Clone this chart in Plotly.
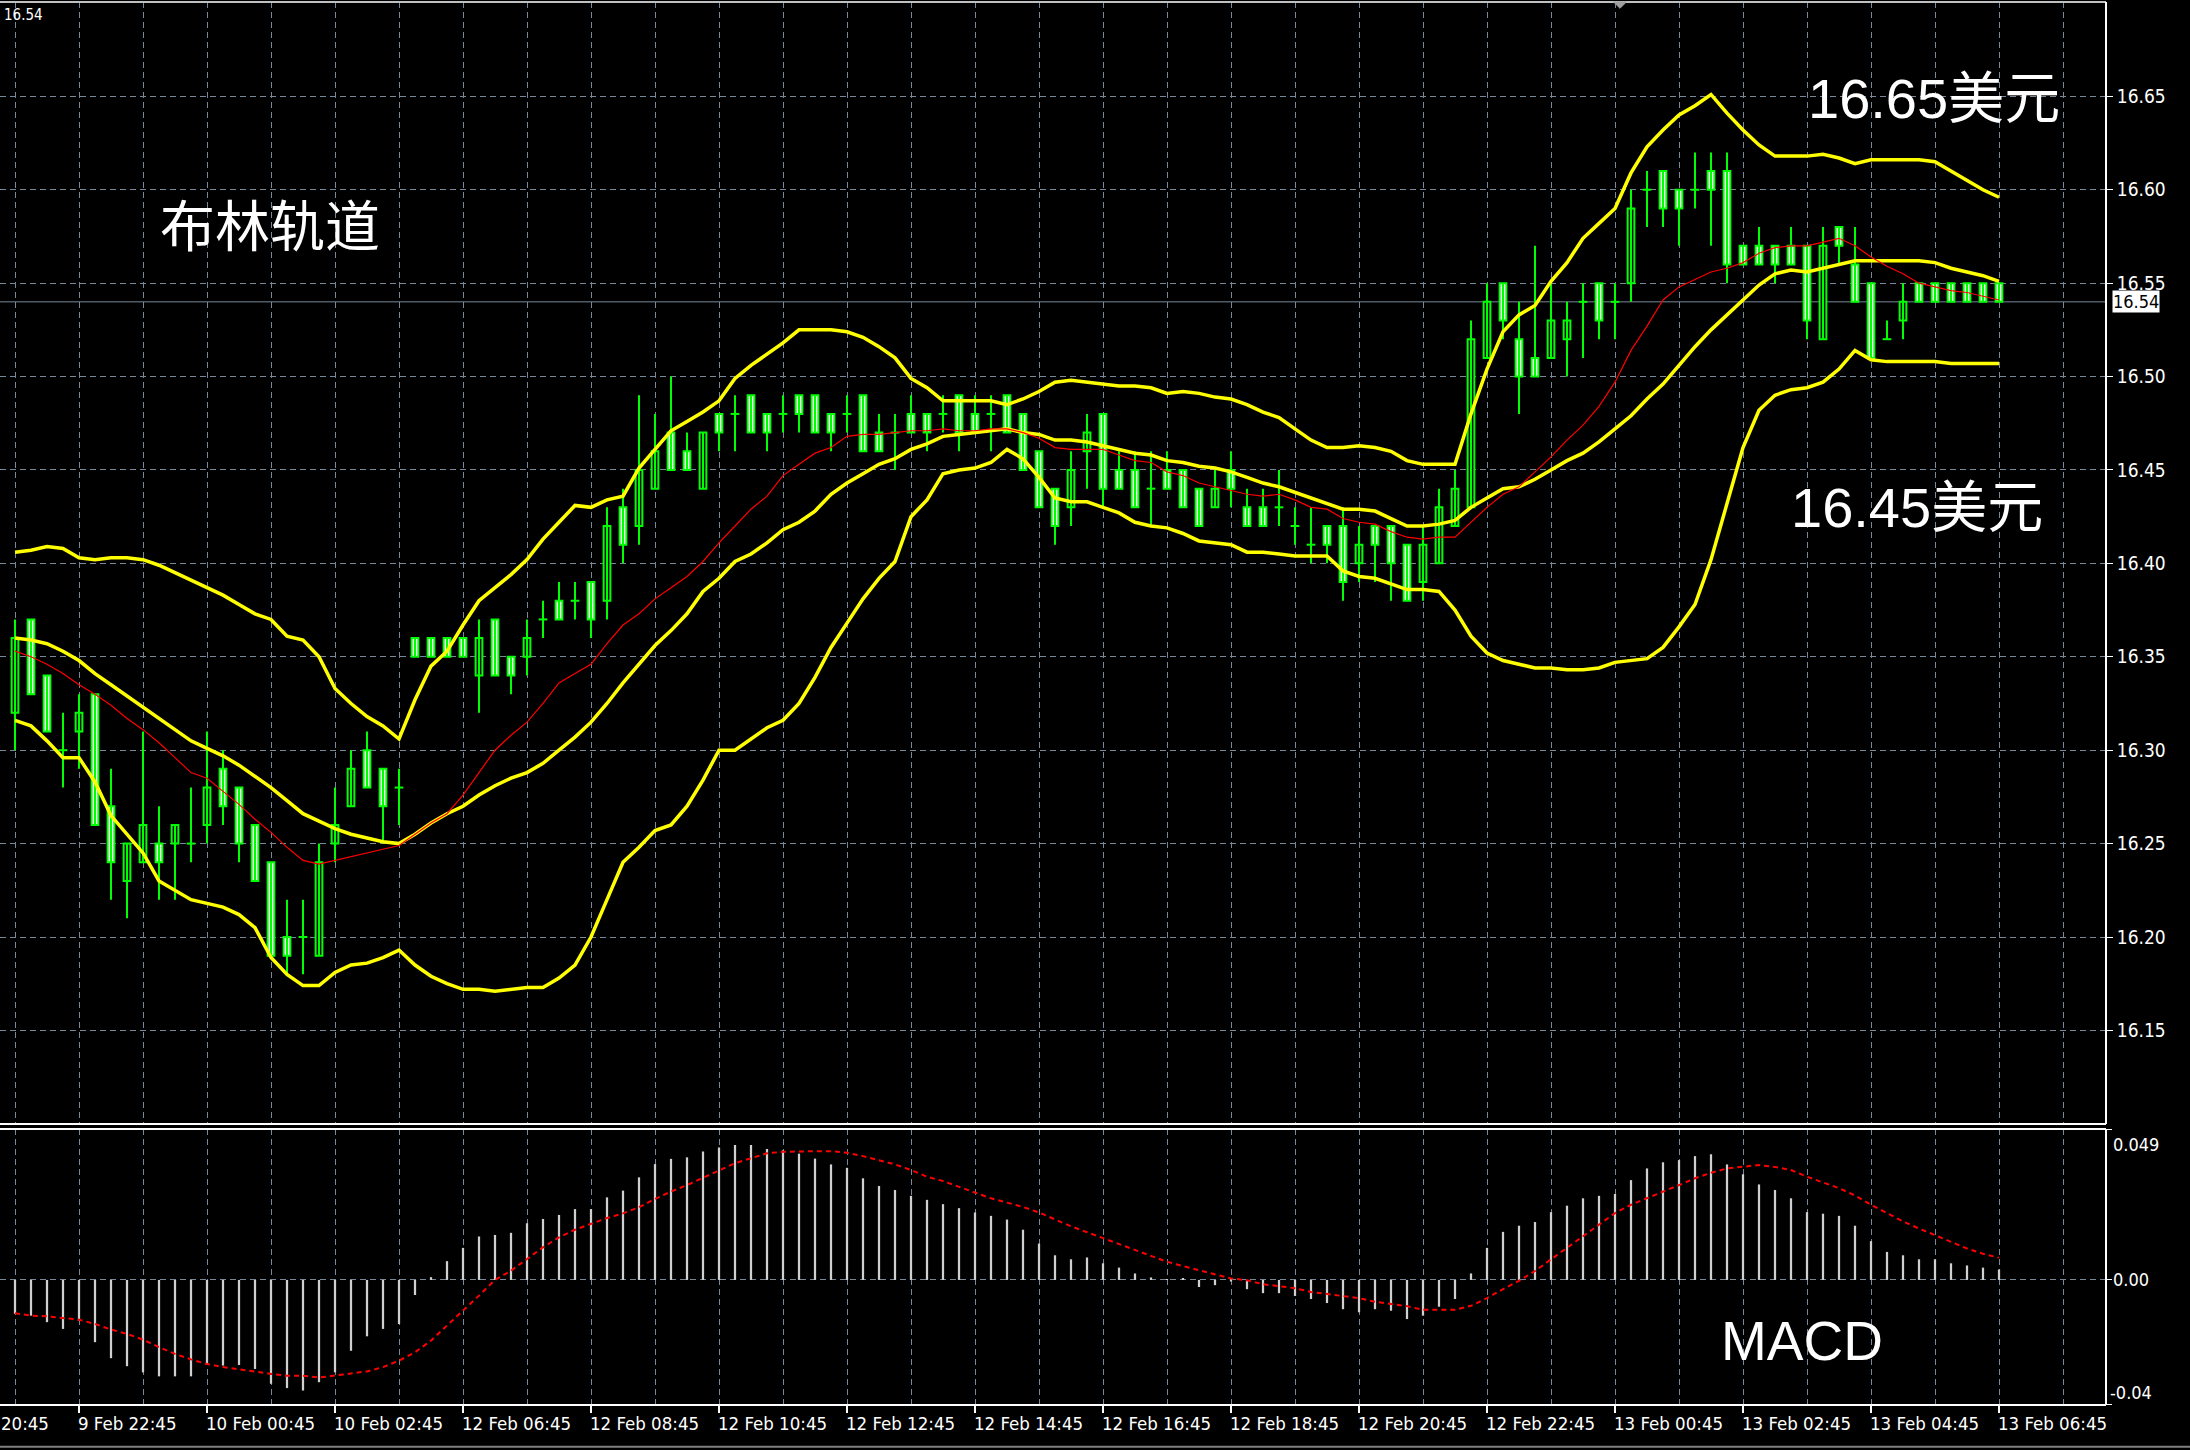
import plotly.graph_objects as go

# ---------------- data (15-minute bars, index 0 .. 124) ----------------
open_ = [16.32, 16.37, 16.34, 16.30, 16.31, 16.33, 16.27, 16.23, 16.24, 16.25,
         16.25, 16.25, 16.26, 16.29, 16.28, 16.26, 16.24, 16.20, 16.20, 16.19,
         16.25, 16.27, 16.30, 16.29, 16.28, 16.36, 16.36, 16.36, 16.36, 16.34,
         16.37, 16.35, 16.35, 16.37, 16.38, 16.38, 16.39, 16.38, 16.43, 16.42,
         16.44, 16.47, 16.46, 16.44, 16.48, 16.48, 16.49, 16.48, 16.48, 16.49,
         16.49, 16.48, 16.48, 16.49, 16.47, 16.47, 16.48, 16.48, 16.48, 16.49,
         16.48, 16.48, 16.49, 16.48, 16.46, 16.44, 16.43, 16.46, 16.48, 16.45,
         16.45, 16.44, 16.45, 16.45, 16.44, 16.43, 16.45, 16.43, 16.43, 16.43,
         16.42, 16.41, 16.42, 16.42, 16.40, 16.42, 16.42, 16.41, 16.39, 16.40,
         16.42, 16.43, 16.51, 16.55, 16.52, 16.51, 16.51, 16.52, 16.54, 16.55,
         16.54, 16.55, 16.60, 16.61, 16.60, 16.60, 16.61, 16.61, 16.57, 16.57,
         16.57, 16.57, 16.57, 16.52, 16.58, 16.56, 16.55, 16.52, 16.53, 16.55,
         16.55, 16.55, 16.55, 16.55, 16.55]
high_ = [16.37, 16.37, 16.34, 16.32, 16.33, 16.33, 16.29, 16.25, 16.31, 16.27,
         16.26, 16.28, 16.31, 16.30, 16.28, 16.26, 16.24, 16.22, 16.22, 16.25,
         16.28, 16.30, 16.31, 16.29, 16.29, 16.36, 16.36, 16.36, 16.36, 16.37,
         16.37, 16.35, 16.37, 16.38, 16.39, 16.39, 16.39, 16.43, 16.44, 16.49,
         16.48, 16.50, 16.47, 16.47, 16.48, 16.49, 16.49, 16.48, 16.49, 16.49,
         16.49, 16.48, 16.49, 16.49, 16.48, 16.48, 16.49, 16.48, 16.49, 16.49,
         16.49, 16.49, 16.49, 16.48, 16.46, 16.44, 16.46, 16.48, 16.48, 16.46,
         16.46, 16.46, 16.46, 16.45, 16.44, 16.45, 16.46, 16.44, 16.44, 16.45,
         16.43, 16.43, 16.42, 16.43, 16.42, 16.42, 16.42, 16.41, 16.42, 16.44,
         16.45, 16.53, 16.55, 16.55, 16.54, 16.57, 16.55, 16.54, 16.55, 16.55,
         16.55, 16.60, 16.61, 16.61, 16.60, 16.62, 16.62, 16.62, 16.57, 16.58,
         16.57, 16.58, 16.57, 16.58, 16.58, 16.58, 16.55, 16.53, 16.55, 16.55,
         16.55, 16.55, 16.55, 16.55, 16.55]
low_ = [16.30, 16.33, 16.31, 16.28, 16.29, 16.26, 16.22, 16.21, 16.24, 16.22,
        16.22, 16.24, 16.25, 16.26, 16.24, 16.23, 16.19, 16.18, 16.18, 16.19,
        16.24, 16.27, 16.28, 16.25, 16.26, 16.35, 16.35, 16.35, 16.35, 16.32,
        16.34, 16.33, 16.34, 16.36, 16.37, 16.37, 16.36, 16.37, 16.40, 16.41,
        16.44, 16.45, 16.45, 16.44, 16.46, 16.46, 16.47, 16.46, 16.47, 16.47,
        16.47, 16.46, 16.47, 16.46, 16.46, 16.45, 16.47, 16.46, 16.47, 16.46,
        16.47, 16.46, 16.47, 16.45, 16.43, 16.41, 16.42, 16.44, 16.43, 16.44,
        16.43, 16.42, 16.44, 16.43, 16.42, 16.43, 16.43, 16.42, 16.42, 16.42,
        16.41, 16.40, 16.40, 16.38, 16.39, 16.39, 16.38, 16.38, 16.38, 16.40,
        16.42, 16.43, 16.51, 16.52, 16.48, 16.50, 16.51, 16.50, 16.51, 16.52,
        16.52, 16.54, 16.58, 16.58, 16.57, 16.59, 16.57, 16.55, 16.56, 16.56,
        16.55, 16.56, 16.52, 16.52, 16.56, 16.54, 16.51, 16.52, 16.52, 16.54,
        16.54, 16.54, 16.54, 16.54, 16.54]
close_ = [16.36, 16.33, 16.31, 16.30, 16.32, 16.26, 16.24, 16.25, 16.26, 16.24,
          16.26, 16.25, 16.28, 16.27, 16.25, 16.23, 16.19, 16.19, 16.20, 16.24,
          16.26, 16.29, 16.28, 16.27, 16.28, 16.35, 16.35, 16.35, 16.35, 16.36,
          16.34, 16.34, 16.36, 16.37, 16.37, 16.38, 16.37, 16.42, 16.41, 16.45,
          16.46, 16.45, 16.45, 16.47, 16.47, 16.48, 16.47, 16.47, 16.48, 16.48,
          16.47, 16.47, 16.48, 16.46, 16.46, 16.47, 16.47, 16.47, 16.48, 16.47,
          16.47, 16.48, 16.47, 16.45, 16.43, 16.42, 16.45, 16.47, 16.44, 16.44,
          16.43, 16.44, 16.44, 16.43, 16.42, 16.44, 16.44, 16.42, 16.42, 16.43,
          16.42, 16.41, 16.41, 16.39, 16.41, 16.41, 16.40, 16.38, 16.41, 16.43,
          16.44, 16.52, 16.54, 16.53, 16.50, 16.50, 16.53, 16.53, 16.54, 16.53,
          16.54, 16.59, 16.60, 16.59, 16.59, 16.60, 16.60, 16.56, 16.56, 16.56,
          16.56, 16.56, 16.53, 16.57, 16.57, 16.54, 16.51, 16.52, 16.54, 16.54,
          16.54, 16.54, 16.54, 16.54, 16.54]

bb_upper = [16.406, 16.407, 16.409, 16.408, 16.403, 16.402, 16.403, 16.403, 16.402, 16.399,
            16.395, 16.391, 16.387, 16.383, 16.378, 16.373, 16.370, 16.361, 16.359, 16.350,
            16.333, 16.325, 16.318, 16.313, 16.306, 16.327, 16.345, 16.353, 16.367, 16.380,
            16.387, 16.394, 16.402, 16.413, 16.422, 16.431, 16.430, 16.434, 16.436, 16.451,
            16.461, 16.471, 16.476, 16.481, 16.487, 16.499, 16.506, 16.512, 16.518, 16.525,
            16.525, 16.525, 16.524, 16.521, 16.516, 16.510, 16.499, 16.494, 16.487, 16.487,
            16.487, 16.487, 16.485, 16.488, 16.492, 16.497, 16.498, 16.497, 16.496, 16.495,
            16.495, 16.494, 16.491, 16.492, 16.491, 16.489, 16.488, 16.485, 16.481, 16.478,
            16.472, 16.466, 16.462, 16.462, 16.463, 16.462, 16.460, 16.455, 16.453, 16.453,
            16.453, 16.480, 16.504, 16.524, 16.533, 16.538, 16.551, 16.561, 16.574, 16.582,
            16.590, 16.609, 16.623, 16.632, 16.640, 16.645, 16.651, 16.641, 16.632, 16.624,
            16.618, 16.618, 16.618, 16.619, 16.617, 16.614, 16.616, 16.616, 16.616, 16.616,
            16.615, 16.610, 16.605, 16.600, 16.596]
bb_middle = [16.360, 16.359, 16.357, 16.353, 16.348, 16.341, 16.335, 16.329, 16.323, 16.317,
             16.311, 16.305, 16.301, 16.297, 16.292, 16.286, 16.280, 16.273, 16.266, 16.262,
             16.258, 16.255, 16.253, 16.251, 16.250, 16.255, 16.261, 16.266, 16.270, 16.276,
             16.281, 16.285, 16.288, 16.293, 16.300, 16.307, 16.315, 16.325, 16.336, 16.346,
             16.356, 16.364, 16.373, 16.385, 16.392, 16.401, 16.405, 16.411, 16.418, 16.422,
             16.428, 16.437, 16.443, 16.448, 16.453, 16.456, 16.461, 16.464, 16.468, 16.469,
             16.470, 16.471, 16.472, 16.470, 16.469, 16.466, 16.466, 16.465, 16.463, 16.461,
             16.459, 16.458, 16.455, 16.454, 16.452, 16.451, 16.449, 16.446, 16.443, 16.441,
             16.438, 16.435, 16.432, 16.429, 16.429, 16.428, 16.424, 16.420, 16.420, 16.421,
             16.423, 16.430, 16.435, 16.440, 16.441, 16.445, 16.450, 16.455, 16.459, 16.465,
             16.472, 16.479, 16.488, 16.496, 16.506, 16.516, 16.525, 16.533, 16.541, 16.549,
             16.555, 16.557, 16.556, 16.558, 16.560, 16.562, 16.562, 16.562, 16.562, 16.562,
             16.561, 16.558, 16.556, 16.554, 16.551]
bb_lower = [16.316, 16.313, 16.305, 16.296, 16.296, 16.283, 16.265, 16.255, 16.245, 16.230,
            16.225, 16.220, 16.218, 16.216, 16.212, 16.205, 16.189, 16.180, 16.174, 16.174,
            16.181, 16.185, 16.186, 16.189, 16.193, 16.185, 16.179, 16.175, 16.172, 16.172,
            16.171, 16.172, 16.173, 16.173, 16.178, 16.185, 16.200, 16.220, 16.240, 16.248,
            16.257, 16.260, 16.270, 16.284, 16.300, 16.300, 16.306, 16.312, 16.316, 16.325,
            16.339, 16.355, 16.368, 16.381, 16.392, 16.401, 16.425, 16.434, 16.448, 16.450,
            16.451, 16.454, 16.461, 16.456, 16.446, 16.435, 16.433, 16.433, 16.430, 16.427,
            16.422, 16.420, 16.419, 16.416, 16.412, 16.411, 16.410, 16.406, 16.406, 16.405,
            16.404, 16.404, 16.404, 16.396, 16.393, 16.392, 16.389, 16.386, 16.386, 16.385,
            16.375, 16.361, 16.352, 16.348, 16.346, 16.344, 16.344, 16.343, 16.343, 16.344,
            16.347, 16.348, 16.349, 16.355, 16.366, 16.378, 16.402, 16.432, 16.462, 16.482,
            16.490, 16.493, 16.494, 16.497, 16.504, 16.514, 16.509, 16.508, 16.508, 16.508,
            16.508, 16.507, 16.507, 16.507, 16.507]
ma_red = [16.353, 16.350, 16.346, 16.341, 16.335, 16.330, 16.324, 16.317, 16.311, 16.304,
          16.296, 16.288, 16.285, 16.278, 16.271, 16.263, 16.256, 16.248, 16.241, 16.239,
          16.241, 16.243, 16.245, 16.247, 16.249, 16.255, 16.261, 16.266, 16.276, 16.288,
          16.300, 16.308, 16.315, 16.325, 16.336, 16.341, 16.346, 16.357, 16.367, 16.373,
          16.381, 16.387, 16.393, 16.401, 16.411, 16.420, 16.429, 16.436, 16.447, 16.453,
          16.459, 16.462, 16.468, 16.469, 16.469, 16.470, 16.471, 16.471, 16.472, 16.471,
          16.471, 16.472, 16.472, 16.470, 16.467, 16.462, 16.461, 16.461, 16.461, 16.458,
          16.455, 16.454, 16.449, 16.447, 16.443, 16.441, 16.439, 16.437, 16.436, 16.437,
          16.434, 16.430, 16.429, 16.424, 16.422, 16.421, 16.417, 16.414, 16.413, 16.414,
          16.414, 16.422, 16.430, 16.437, 16.441, 16.449, 16.457, 16.466, 16.474, 16.484,
          16.497, 16.514, 16.527, 16.541, 16.548, 16.552, 16.556, 16.558, 16.561, 16.566,
          16.569, 16.570, 16.570, 16.572, 16.574, 16.570, 16.564, 16.559, 16.555, 16.550,
          16.548, 16.546, 16.545, 16.543, 16.541]

macd_hist = [-0.0110, -0.0116, -0.0137, -0.0159, -0.0132, -0.0202, -0.0254, -0.0280, -0.0300, -0.0313,
             -0.0313, -0.0313, -0.0276, -0.0278, -0.0276, -0.0289, -0.0337, -0.0351, -0.0359, -0.0332,
             -0.0300, -0.0230, -0.0183, -0.0159, -0.0143, -0.0049, 0.0009, 0.0061, 0.0104, 0.0141,
             0.0146, 0.0153, 0.0184, 0.0198, 0.0211, 0.0230, 0.0230, 0.0268, 0.0290, 0.0333,
             0.0376, 0.0393, 0.0398, 0.0417, 0.0430, 0.0438, 0.0438, 0.0425, 0.0421, 0.0410,
             0.0394, 0.0375, 0.0364, 0.0330, 0.0305, 0.0292, 0.0273, 0.0260, 0.0246, 0.0233,
             0.0219, 0.0208, 0.0196, 0.0163, 0.0118, 0.0080, 0.0067, 0.0073, 0.0054, 0.0040,
             0.0021, 0.0008, 0.0002, 0.0005, -0.0023, -0.0017, -0.0005, -0.0030, -0.0043, -0.0043,
             -0.0052, -0.0062, -0.0075, -0.0095, -0.0105, -0.0095, -0.0100, -0.0127, -0.0116, -0.0087,
             -0.0062, 0.0021, 0.0104, 0.0156, 0.0176, 0.0188, 0.0220, 0.0241, 0.0265, 0.0273,
             0.0279, 0.0324, 0.0362, 0.0382, 0.0389, 0.0402, 0.0408, 0.0375, 0.0343, 0.0310,
             0.0292, 0.0265, 0.0220, 0.0215, 0.0208, 0.0176, 0.0126, 0.0091, 0.0080, 0.0067,
             0.0067, 0.0054, 0.0047, 0.0040, 0.0034]
macd_signal = [-0.0108, -0.0116, -0.0118, -0.0123, -0.0129, -0.0143, -0.0161, -0.0175, -0.0194, -0.0218,
               -0.0240, -0.0258, -0.0273, -0.0283, -0.0291, -0.0297, -0.0305, -0.0311, -0.0311, -0.0317,
               -0.0310, -0.0305, -0.0297, -0.0283, -0.0262, -0.0235, -0.0197, -0.0148, -0.0100, -0.0051,
               0.0000, 0.0030, 0.0068, 0.0106, 0.0138, 0.0163, 0.0182, 0.0201, 0.0216, 0.0236,
               0.0263, 0.0287, 0.0308, 0.0332, 0.0355, 0.0379, 0.0395, 0.0411, 0.0416, 0.0418,
               0.0418, 0.0418, 0.0413, 0.0402, 0.0389, 0.0375, 0.0357, 0.0335, 0.0321, 0.0303,
               0.0284, 0.0265, 0.0251, 0.0237, 0.0219, 0.0196, 0.0174, 0.0155, 0.0136, 0.0117,
               0.0096, 0.0077, 0.0059, 0.0045, 0.0031, 0.0018, 0.0005, -0.0001, -0.0014, -0.0020,
               -0.0027, -0.0039, -0.0046, -0.0053, -0.0059, -0.0071, -0.0078, -0.0085, -0.0097, -0.0097,
               -0.0097, -0.0084, -0.0059, -0.0030, -0.0003, 0.0029, 0.0067, 0.0106, 0.0144, 0.0182,
               0.0217, 0.0244, 0.0265, 0.0285, 0.0308, 0.0330, 0.0348, 0.0362, 0.0367, 0.0373,
               0.0367, 0.0357, 0.0335, 0.0317, 0.0298, 0.0274, 0.0244, 0.0217, 0.0190, 0.0167,
               0.0145, 0.0124, 0.0102, 0.0085, 0.0072]

time_labels = ["9 Feb 20:45", "9 Feb 22:45", "10 Feb 00:45", "10 Feb 02:45",
               "12 Feb 06:45", "12 Feb 08:45", "12 Feb 10:45", "12 Feb 12:45",
               "12 Feb 14:45", "12 Feb 16:45", "12 Feb 18:45", "12 Feb 20:45",
               "12 Feb 22:45", "13 Feb 00:45", "13 Feb 02:45", "13 Feb 04:45",
               "13 Feb 06:45"]
time_label_bar = [-4, 4, 12, 20, 28, 36, 44, 52, 60, 68, 76, 84, 92, 100, 108, 116, 124]

price_ticks = [16.15, 16.20, 16.25, 16.30, 16.35, 16.40, 16.45, 16.50, 16.55, 16.60, 16.65]
price_tick_text = ["16.15", "16.20", "16.25", "16.30", "16.35", "16.40", "16.45",
                   "16.50", "16.55", "16.60", "16.65"]
macd_ticks = [0.049, 0.0, -0.0405]
macd_tick_text = ["0.049", "0.00", "-0.04"]
last_price = 16.54
last_price_text = "16.54"

# ---------------- styling ----------------
GREEN = "#00FF00"
YELLOW = "#FFFF00"
GRID = "#778899"
NARROW = "Liberation Sans Narrow, Arial Narrow, DejaVu Sans Condensed, Liberation Sans, sans-serif"
TXT = "Liberation Sans, Arial, Noto Sans CJK SC, sans-serif"

n = len(close_)
idx = list(range(n))
xr = [-0.9375, 130.6875]

fig = go.Figure()

# wicks
wx, wy = [], []
for i in idx:
    wx += [i, i, None]
    wy += [low_[i], high_[i], None]
fig.add_trace(go.Scatter(x=wx, y=wy, mode="lines", line=dict(color=GREEN, width=2),
                         hoverinfo="skip", showlegend=False, xaxis="x", yaxis="y"))

# bodies
bull_x, bull_base, bull_h = [], [], []
bear_x, bear_base, bear_h = [], [], []
dx, dy = [], []
for i in idx:
    o, c = open_[i], close_[i]
    if abs(c - o) < 1e-9:
        dx += [i - 0.27, i + 0.27, None]
        dy += [o, o, None]
    elif c > o:
        bull_x.append(i); bull_base.append(o); bull_h.append(c - o)
    else:
        bear_x.append(i); bear_base.append(c); bear_h.append(o - c)

fig.add_trace(go.Bar(x=bull_x, y=bull_h, base=bull_base, width=0.42,
                     marker=dict(color="#000000", line=dict(color=GREEN, width=2)),
                     showlegend=False, hoverinfo="skip", xaxis="x", yaxis="y"))
fig.add_trace(go.Bar(x=bear_x, y=bear_h, base=bear_base, width=0.42,
                     marker=dict(color="#FFFFFF", line=dict(color=GREEN, width=2)),
                     showlegend=False, hoverinfo="skip", xaxis="x", yaxis="y"))
fig.add_trace(go.Scatter(x=dx, y=dy, mode="lines", line=dict(color=GREEN, width=2),
                         hoverinfo="skip", showlegend=False, xaxis="x", yaxis="y"))

# bands + red MA
for arr in (bb_upper, bb_middle, bb_lower):
    fig.add_trace(go.Scatter(x=idx, y=arr, mode="lines", line=dict(color=YELLOW, width=3.5),
                             hoverinfo="skip", showlegend=False, xaxis="x", yaxis="y"))
fig.add_trace(go.Scatter(x=idx, y=ma_red, mode="lines", line=dict(color="#FF0000", width=1.2),
                         hoverinfo="skip", showlegend=False, xaxis="x", yaxis="y"))

# MACD
fig.add_trace(go.Bar(x=idx, y=macd_hist, width=0.14, marker=dict(color="#D0D0D0", line=dict(width=0)),
                     showlegend=False, hoverinfo="skip", xaxis="x2", yaxis="y2"))
fig.add_trace(go.Scatter(x=idx, y=macd_signal, mode="lines",
                         line=dict(color="#FF0000", width=2, dash="5px,4px"),
                         hoverinfo="skip", showlegend=False, xaxis="x2", yaxis="y2"))

W, H = 2190, 1450
ML, MR, MT, MB = 0, 84, 2, 45
plot_h = H - MT - MB
main_bottom_px = 1124
macd_top_px = 1129
dom_main = [(H - MB - main_bottom_px) / plot_h, 1.0]
dom_macd = [0.0, (H - MB - macd_top_px) / plot_h]

grid_vals = list(range(0, 131, 4))

fig.update_layout(
    width=W, height=H,
    margin=dict(l=ML, r=MR, t=MT, b=MB),
    paper_bgcolor="#000000", plot_bgcolor="#000000",
    barmode="overlay", showlegend=False, hovermode=False,
    xaxis=dict(domain=[0, 1], anchor="y", range=xr, tickmode="array", tickvals=grid_vals,
               showticklabels=False, ticks="", showgrid=True, gridcolor=GRID, gridwidth=1,
               griddash="6px,4px", zeroline=False, showline=False),
    yaxis=dict(domain=dom_main, anchor="x", range=[16.0999, 16.7005], side="right",
               tickmode="array", tickvals=price_ticks, ticktext=price_tick_text,
               ticks="outside", ticklen=6, tickwidth=1, tickcolor="#FFFFFF",
               tickfont=dict(color="#FFFFFF", size=19, family=NARROW),
               showgrid=True, gridcolor=GRID, gridwidth=1, griddash="6px,4px",
               zeroline=False, showline=False),
    xaxis2=dict(domain=[0, 1], anchor="y2", range=xr, matches="x", tickmode="array",
                tickvals=time_label_bar[1:], ticktext=[""] * (len(time_label_bar) - 1),
                ticks="outside", ticklen=7, tickwidth=2, tickcolor="#FFFFFF",
                showticklabels=False, showgrid=True, gridcolor=GRID, gridwidth=1,
                griddash="6px,4px",
                minor=dict(tickmode="linear", tick0=0, dtick=8, showgrid=True, gridcolor=GRID,
                           gridwidth=1, griddash="6px,4px", ticks=""),
                zeroline=False, showline=False),
    yaxis2=dict(domain=dom_macd, anchor="x2", range=[-0.0406, 0.049], side="right",
                tickmode="array", tickvals=macd_ticks, ticktext=["", "", ""],
                ticks="outside", ticklen=5, tickwidth=1, tickcolor="#FFFFFF",
                showticklabels=False, showgrid=True, gridcolor=GRID, gridwidth=1,
                griddash="6px,4px", zeroline=False, showline=False),
)

shapes = []
def pline(x0, y0, x1, y1, color="#FFFFFF", width=2):
    shapes.append(dict(type="line", xref="paper", yref="paper", x0=x0, y0=y0, x1=x1, y1=y1,
                       line=dict(color=color, width=width), layer="above"))

# current price line
shapes.append(dict(type="line", xref="paper", yref="y", x0=0, x1=1, y0=last_price, y1=last_price,
                   line=dict(color=GRID, width=1), layer="below"))
# panel borders
pline(0, 1.0, 1, 1.0, color="#C0C0C0", width=2)
pline(1, dom_main[0], 1, 1.0)
pline(0, dom_main[0], 1, dom_main[0])
pline(0, dom_macd[1], 1, dom_macd[1])
pline(0, 0, 1, 0)
pline(1, 0, 1, dom_macd[1])
# window bottom edge
pline(0, -0.0297, 1.0399, -0.0297, color="#808080", width=2)
# chart-shift marker at top
tx = 1620 / 2106
shapes.append(dict(type="path", xref="paper", yref="paper",
                   path=f"M {tx-0.0030},1.0 L {tx+0.0030},1.0 L {tx},0.9955 Z",
                   fillcolor="#A0A0A0", line=dict(color="#A0A0A0", width=1), layer="above"))
fig.update_layout(shapes=shapes)

ann = []
# time axis labels, left-aligned at their tick; a label whose tick lies left of the
# visible range only shows its time part at the left edge (as the reference does)
for b, t in zip(time_label_bar, time_labels):
    if b < xr[0]:
        ann.append(dict(x=xr[0], xref="x2", y=-0.0135, yref="paper", text=t.split()[-1],
                        showarrow=False, xanchor="left", yanchor="middle", xshift=-1,
                        font=dict(color="#FFFFFF", size=18.5, family=NARROW)))
    else:
        ann.append(dict(x=b, xref="x2", y=-0.0135, yref="paper", text=t, showarrow=False,
                        xanchor="left", yanchor="middle", xshift=-3,
                        font=dict(color="#FFFFFF", size=18.5, family=NARROW)))
# MACD axis labels
ann.append(dict(x=1.0, xref="paper", y=macd_ticks[0], yref="y2", text=macd_tick_text[0],
                showarrow=False, xanchor="left", yanchor="top", xshift=5, yshift=-3,
                font=dict(color="#FFFFFF", size=18, family=NARROW)))
ann.append(dict(x=1.0, xref="paper", y=macd_ticks[1], yref="y2", text=macd_tick_text[1],
                showarrow=False, xanchor="left", yanchor="middle", xshift=5,
                font=dict(color="#FFFFFF", size=18, family=NARROW)))
ann.append(dict(x=1.0, xref="paper", y=macd_ticks[2], yref="y2", text=macd_tick_text[2],
                showarrow=False, xanchor="left", yanchor="bottom", xshift=2,
                font=dict(color="#FFFFFF", size=18, family=NARROW)))
# current price box
ann.append(dict(x=1.0, xref="paper", y=last_price, yref="y", text=last_price_text,
                showarrow=False, xanchor="left", yanchor="middle", xshift=6,
                bgcolor="#FFFFFF", borderpad=0,
                font=dict(color="#000000", size=18, family=NARROW)))
# top-left price
ann.append(dict(x=0.0, xref="paper", y=1.0, yref="paper", text=last_price_text,
                showarrow=False, xanchor="left", yanchor="top", xshift=2, yshift=-2,
                font=dict(color="#FFFFFF", size=15, family=NARROW)))
# big labels
ann.append(dict(x=158 / 2106, xref="paper", y=(H - MB - 222) / plot_h, yref="paper",
                text="布林轨道", showarrow=False, xanchor="left", yanchor="middle",
                font=dict(color="#FFFFFF", size=55, family="Noto Sans CJK SC, sans-serif")))
ann.append(dict(x=1806 / 2106, xref="paper", y=(H - MB - 98) / plot_h, yref="paper",
                text="16.65美元", showarrow=False, xanchor="left", yanchor="middle",
                font=dict(color="#FFFFFF", size=56, family=TXT)))
ann.append(dict(x=1789 / 2106, xref="paper", y=(H - MB - 508) / plot_h, yref="paper",
                text="16.45美元", showarrow=False, xanchor="left", yanchor="middle",
                font=dict(color="#FFFFFF", size=56, family=TXT)))
ann.append(dict(x=1719 / 2106, xref="paper", y=(H - MB - 1341) / plot_h, yref="paper",
                text="MACD", showarrow=False, xanchor="left", yanchor="middle",
                font=dict(color="#FFFFFF", size=55, family=TXT)))
fig.update_layout(annotations=ann)

fig.write_html("out.html", config={"displayModeBar": False},
               post_script="document.body.style.margin='0px';document.body.style.overflow='hidden';document.body.style.background='#000000';")
